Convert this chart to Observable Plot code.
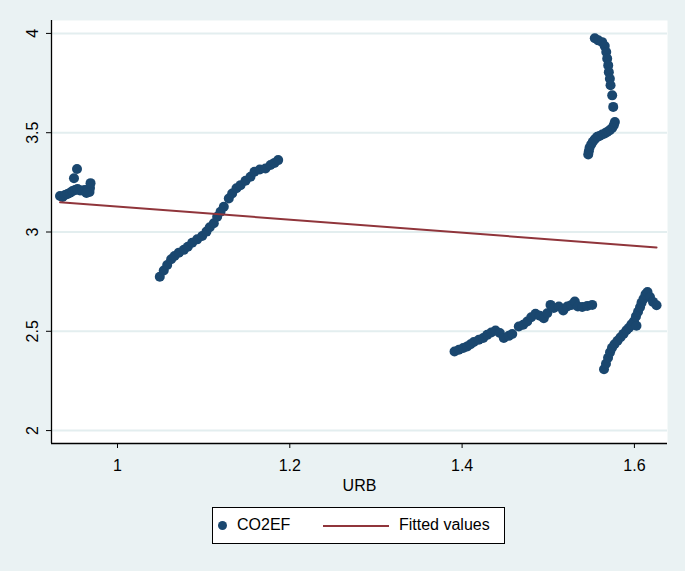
<!DOCTYPE html>
<html>
<head>
<meta charset="utf-8">
<script src="https://cdn.jsdelivr.net/npm/d3@7"></script>
<script src="https://cdn.jsdelivr.net/npm/@observablehq/plot@0.6"></script>
<style>
  html, body { margin: 0; padding: 0; background: #eaf2f3; width: 685px; height: 571px; overflow: hidden; }
  body { font-family: "Liberation Sans", Arial, sans-serif; }
  #chart svg { display: block; background: transparent; }
  #legend {
    position: absolute; left: 212px; top: 507px; width: 291px; height: 35px;
    background: #fff; border: 1px solid #000; box-sizing: content-box;
    font-size: 16px; color: #000;
  }
  #legend .dot { position: absolute; left: 5px; top: 13px; width: 9px; height: 9px; border-radius: 50%; background: #1a476f; }
  #legend .t1 { position: absolute; left: 24px; top: 8px; }
  #legend .ln { position: absolute; left: 110px; top: 17px; width: 66px; height: 2px; background: #90353b; }
  #legend .t2 { position: absolute; left: 186px; top: 8px; }
</style>
</head>
<body>
<div id="chart"></div>
<div id="legend"><div class="dot"></div><span class="t1">CO2EF</span><div class="ln"></div><span class="t2">Fitted values</span></div>
<script>
// Scatter data: URB (x) and CO2EF (y)
const urb = [
  0.9333,0.9362,0.9391,0.9420,0.9449,0.9478,0.9507,0.9495,0.9530,0.9536,0.9565,0.9594,0.9623,0.9652,0.9681,0.9687,0.9675,0.9640,
  1.0491,1.0537,1.0577,1.0623,1.0662,1.0712,1.0770,1.0816,1.0867,1.0925,1.0983,1.1033,1.1071,1.1118,1.1157,1.1196,1.1234,1.1292,1.1331,1.1381,1.1428,1.1486,1.1544,1.1590,1.1652,1.1718,1.1776,1.1822,1.1865,
  1.3912,1.3962,1.4013,1.4059,1.4098,1.4136,1.4194,1.4245,1.4291,1.4338,1.4388,1.4438,1.4484,1.4542,1.4582,1.4658,1.4709,1.4756,1.4802,1.4852,1.4902,1.4948,1.4988,1.5026,1.5064,1.5123,1.5174,1.5220,1.5270,1.5308,1.5343,1.5394,1.5452,1.5510,
  1.5540,1.5580,1.5626,1.5656,1.5673,1.5684,1.5696,1.5703,1.5715,1.5723,1.5742,1.5754,1.5773,1.5761,1.5742,1.5715,1.5684,1.5656,1.5626,1.5595,1.5568,1.5540,1.5517,1.5498,1.5479,1.5471,1.5464,
  1.5647,1.5670,1.5694,1.5717,1.5740,1.5769,1.5804,1.5839,1.5873,1.5908,1.5937,1.5966,1.5995,1.6024,1.6018,1.6042,1.6065,1.6082,1.6105,1.6129,1.6152,1.6181,1.6216,1.6257
];
const co2ef = [
  3.181,3.176,3.186,3.191,3.198,3.206,3.211,3.271,3.317,3.216,3.209,3.209,3.211,3.211,3.221,3.246,3.201,3.196,
  2.775,2.806,2.834,2.863,2.879,2.896,2.910,2.926,2.946,2.963,2.980,3.002,3.024,3.044,3.077,3.102,3.127,3.169,3.194,3.220,3.236,3.258,3.278,3.303,3.315,3.320,3.337,3.348,3.362,
  2.398,2.407,2.416,2.424,2.435,2.446,2.457,2.466,2.482,2.494,2.504,2.491,2.466,2.477,2.486,2.524,2.533,2.549,2.571,2.588,2.578,2.566,2.591,2.633,2.617,2.625,2.605,2.625,2.633,2.650,2.625,2.622,2.628,2.633,
  3.976,3.965,3.956,3.936,3.906,3.873,3.839,3.805,3.772,3.739,3.688,3.630,3.554,3.538,3.524,3.513,3.504,3.496,3.491,3.484,3.479,3.467,3.454,3.441,3.424,3.407,3.390,
  2.309,2.337,2.367,2.394,2.417,2.435,2.452,2.470,2.487,2.505,2.518,2.535,2.550,2.528,2.575,2.598,2.621,2.643,2.663,2.686,2.698,2.673,2.648,2.631
];
// Fitted values line (endpoints)
const fitUrb = [0.9333, 1.6257];
const fitCo2 = [3.150, 2.922];
// Axis ticks
const xTicks = [1, 1.2, 1.4, 1.6];
const xTickLabels = ["1", "1.2", "1.4", "1.6"];
const yTicks = [2, 2.5, 3, 3.5, 4];
const yTickLabels = ["2", "2.5", "3", "3.5", "4"];

const points = urb.map((u, i) => ({urb: u, co2ef: co2ef[i]}));
const fit = fitUrb.map((u, i) => ({urb: u, co2ef: fitCo2[i]}));
const navy = "#1a476f", maroon = "#90353b", bg = "#eaf2f3";

const chart = Plot.plot({
  width: 685,
  height: 500,
  marginTop: 20,
  marginBottom: 57,
  marginLeft: 51,
  marginRight: 18,
  style: {fontFamily: "'Liberation Sans', Arial, sans-serif", fontSize: "16px", color: "#000", background: "transparent", overflow: "visible"},
  x: {domain: [0.9234, 1.6384]},
  y: {domain: [1.935, 4.065]},
  marks: [
    Plot.frame({fill: "white", stroke: null}),
    Plot.gridY(yTicks, {stroke: "#e3eeef", strokeOpacity: 1, strokeWidth: 2}),
    Plot.axisX(xTicks, {tickSize: 5, tickPadding: 11, fontSize: 16, tickFormat: (d, i) => xTickLabels[i], label: null, stroke: "#000"}),
    Plot.axisY(yTicks, {tickSize: 5, tickFormat: () => "", label: null, stroke: "#000"}),
    Plot.text(yTicks, {y: d => d, text: (d, i) => yTickLabels[i], frameAnchor: "left", dx: -19, rotate: -90, textAnchor: "middle", lineAnchor: "middle", fontSize: 16, fill: "#000"}),
    Plot.ruleX([0.9234], {stroke: "#000", strokeWidth: 1.3}),
    Plot.ruleY([1.935], {stroke: "#000", strokeWidth: 1.3}),
    Plot.dot(points, {x: "urb", y: "co2ef", r: 5, fill: navy, stroke: null}),
    Plot.line(fit, {x: "urb", y: "co2ef", stroke: maroon, strokeWidth: 2}),
    Plot.text(["URB"], {frameAnchor: "bottom", dy: 42, lineAnchor: "middle", fontSize: 16, fill: "#000"})
  ]
});
document.getElementById("chart").appendChild(chart);
</script>
</body>
</html>
